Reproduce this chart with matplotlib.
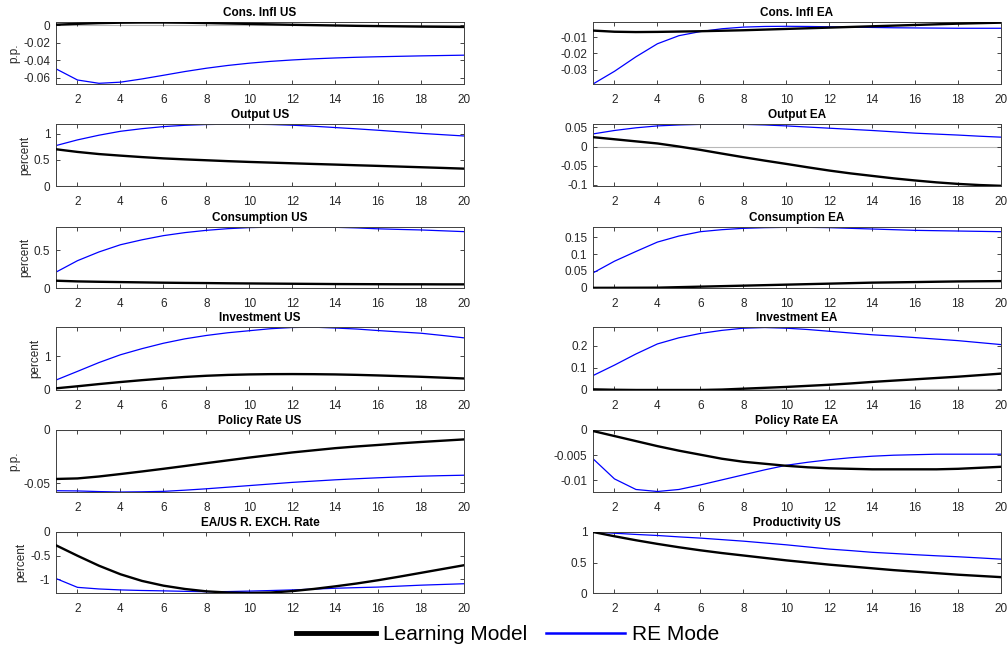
import numpy as np
import matplotlib
matplotlib.use("Agg")
import matplotlib.pyplot as plt
from matplotlib.lines import Line2D
from matplotlib.ticker import FuncFormatter

plt.rcParams['font.family'] = ['Liberation Sans', 'DejaVu Sans']
plt.rcParams['axes.unicode_minus'] = False

# horizon (quarters)
horizon = np.arange(1, 21)

titles = ["Cons. Infl US", "Cons. Infl EA", "Output US", "Output EA",
          "Consumption US", "Consumption EA", "Investment US", "Investment EA",
          "Policy Rate US", "Policy Rate EA", "EA/US R. EXCH. Rate", "Productivity US"]
ylabels = ["p.p.", "", "percent", "", "percent", "", "percent", "", "p.p.", "", "percent", ""]

# learning model responses
learn_infl_us = [0.0008, 0.0018, 0.0026, 0.0031, 0.0033, 0.0033, 0.0031, 0.0027, 0.0022, 0.0017,
                 0.0012, 0.0007, 0.0003, -0.0001, -0.0005, -0.0008, -0.0011, -0.0014, -0.0016, -0.0018]
learn_infl_ea = [-0.0061, -0.0068, -0.0070, -0.0069, -0.0067, -0.0065, -0.0062, -0.0059, -0.0055, -0.0051,
                 -0.0047, -0.0043, -0.0039, -0.0035, -0.0031, -0.0027, -0.0023, -0.0019, -0.0016, -0.0013]
learn_y_us = [0.705, 0.654, 0.613, 0.583, 0.555, 0.530, 0.511, 0.494, 0.477, 0.462,
              0.449, 0.436, 0.423, 0.411, 0.398, 0.386, 0.373, 0.360, 0.347, 0.333]
learn_y_ea = [0.0245, 0.019, 0.0135, 0.0080, 0.0000, -0.0088, -0.0185, -0.0280, -0.0370, -0.0456,
              -0.0545, -0.0630, -0.0705, -0.0770, -0.0835, -0.0890, -0.0940, -0.0980, -0.1010, -0.1030]
learn_c_us = [0.096, 0.087, 0.082, 0.078, 0.074, 0.070, 0.067, 0.065, 0.062, 0.060,
              0.058, 0.056, 0.054, 0.052, 0.051, 0.050, 0.049, 0.049, 0.048, 0.048]
learn_c_ea = [-0.0005, -0.0004, -0.0002, 0.0000, 0.0015, 0.0030, 0.0045, 0.0060, 0.0075, 0.0090,
              0.0105, 0.0120, 0.0135, 0.0150, 0.0158, 0.0167, 0.0177, 0.0186, 0.0191, 0.0196]
learn_i_us = [0.05, 0.11, 0.175, 0.235, 0.29, 0.34, 0.385, 0.42, 0.445, 0.46,
              0.468, 0.47, 0.467, 0.46, 0.447, 0.43, 0.41, 0.39, 0.365, 0.34]
learn_i_ea = [0.000, -0.002, -0.003, -0.003, -0.003, -0.003, -0.001, 0.003, 0.007, 0.011,
              0.016, 0.021, 0.027, 0.034, 0.040, 0.046, 0.052, 0.058, 0.065, 0.072]
learn_r_us = [-0.0458, -0.0453, -0.0435, -0.0412, -0.0388, -0.0363, -0.0337, -0.0310, -0.0284, -0.0258,
              -0.0234, -0.0210, -0.0190, -0.0170, -0.0154, -0.0140, -0.0125, -0.0112, -0.0100, -0.0088]
learn_r_ea = [-0.0002, -0.0012, -0.0022, -0.0032, -0.0041, -0.0049, -0.0057, -0.0063, -0.0067, -0.0071,
              -0.0074, -0.0076, -0.0077, -0.0078, -0.0078, -0.0078, -0.0078, -0.0077, -0.0075, -0.0073]
learn_rer = [-0.28, -0.50, -0.71, -0.89, -1.03, -1.13, -1.20, -1.25, -1.275, -1.285,
             -1.275, -1.245, -1.20, -1.145, -1.085, -1.016, -0.94, -0.86, -0.78, -0.70]
learn_prod = [1.0, 0.93, 0.865, 0.805, 0.75, 0.70, 0.655, 0.615, 0.575, 0.535,
              0.50, 0.465, 0.435, 0.405, 0.375, 0.35, 0.325, 0.30, 0.28, 0.26]

# rational expectations responses
re_infl_us = [-0.0499, -0.0627, -0.0665, -0.0652, -0.0615, -0.0573, -0.0530, -0.0492, -0.0460, -0.0434,
              -0.0413, -0.0397, -0.0384, -0.0374, -0.0366, -0.0360, -0.0355, -0.0350, -0.0346, -0.0342]
re_infl_ea = [-0.0385, -0.0308, -0.0220, -0.0141, -0.0092, -0.0067, -0.0050, -0.0040, -0.0036, -0.0035,
              -0.0036, -0.0038, -0.0040, -0.0042, -0.0044, -0.0045, -0.0046, -0.0047, -0.0047, -0.0047]
re_y_us = [0.776, 0.885, 0.975, 1.050, 1.100, 1.140, 1.165, 1.180, 1.186, 1.186,
           1.180, 1.167, 1.147, 1.122, 1.097, 1.070, 1.040, 1.010, 0.985, 0.960]
re_y_ea = [0.033, 0.042, 0.049, 0.054, 0.0565, 0.058, 0.0585, 0.058, 0.0565, 0.054,
           0.051, 0.048, 0.045, 0.042, 0.0385, 0.035, 0.0325, 0.030, 0.027, 0.0245]
re_c_us = [0.209, 0.360, 0.475, 0.570, 0.635, 0.690, 0.730, 0.760, 0.782, 0.796,
           0.802, 0.804, 0.803, 0.800, 0.792, 0.780, 0.772, 0.765, 0.754, 0.743]
re_c_ea = [0.044, 0.079, 0.108, 0.136, 0.154, 0.167, 0.173, 0.177, 0.179, 0.180,
           0.180, 0.179, 0.177, 0.175, 0.173, 0.171, 0.170, 0.169, 0.168, 0.167]
re_i_us = [0.294, 0.55, 0.81, 1.04, 1.22, 1.38, 1.51, 1.61, 1.69, 1.75,
           1.81, 1.845, 1.855, 1.83, 1.80, 1.755, 1.715, 1.676, 1.61, 1.54]
re_i_ea = [0.063, 0.111, 0.162, 0.208, 0.236, 0.256, 0.270, 0.280, 0.283, 0.280,
           0.274, 0.266, 0.258, 0.250, 0.244, 0.237, 0.230, 0.223, 0.214, 0.205]
re_r_us = [-0.0568, -0.0570, -0.0576, -0.0580, -0.0578, -0.0574, -0.0563, -0.0550, -0.0535, -0.0520,
           -0.0505, -0.0490, -0.0478, -0.0466, -0.0456, -0.0447, -0.0439, -0.0432, -0.0427, -0.0423]
re_r_ea = [-0.0057, -0.0097, -0.0118, -0.0122, -0.0118, -0.0109, -0.0099, -0.0089, -0.0079, -0.0070,
           -0.0064, -0.0059, -0.0055, -0.0052, -0.0050, -0.0049, -0.0048, -0.0048, -0.0048, -0.0048]
re_rer = [-0.98, -1.166, -1.20, -1.22, -1.232, -1.24, -1.25, -1.258, -1.255, -1.245,
          -1.233, -1.22, -1.203, -1.185, -1.172, -1.16, -1.14, -1.12, -1.105, -1.09]
re_prod = [1.0, 0.98, 0.96, 0.943, 0.92, 0.90, 0.875, 0.85, 0.82, 0.79,
           0.755, 0.72, 0.695, 0.667, 0.648, 0.628, 0.61, 0.594, 0.575, 0.555]

learn = [learn_infl_us, learn_infl_ea, learn_y_us, learn_y_ea, learn_c_us, learn_c_ea,
         learn_i_us, learn_i_ea, learn_r_us, learn_r_ea, learn_rer, learn_prod]
re = [re_infl_us, re_infl_ea, re_y_us, re_y_ea, re_c_us, re_c_ea,
      re_i_us, re_i_ea, re_r_us, re_r_ea, re_rer, re_prod]

ylims = [(-0.0673, 0.0039), (-0.0385, -0.0009), (0, 1.19), (-0.1035, 0.059),
         (0, 0.804), (-0.001, 0.181), (0, 1.86), (-0.003, 0.2855),
         (-0.058, 0), (-0.0123, 0), (-1.285, 0), (0, 1)]
yticks = [[-0.06, -0.04, -0.02, 0], [-0.03, -0.02, -0.01], [0, 0.5, 1], [-0.1, -0.05, 0, 0.05],
          [0, 0.5], [0, 0.05, 0.1, 0.15], [0, 1], [0, 0.1, 0.2],
          [-0.05, 0], [-0.01, -0.005, 0], [-1, -0.5, 0], [0, 0.5, 1]]

W, H = 1008, 650
fig = plt.figure(figsize=(W / 100, H / 100), dpi=100)

col_x = [56, 593]
ax_w = 408
rows = [(22, 84), (124, 186), (227, 288), (327, 390), (430, 492), (532, 593)]

tick_col = '#262626'
for k in range(12):
    r, c = k // 2, k % 2
    top, bot = rows[r]
    ax = fig.add_axes([col_x[c] / W, 1 - bot / H, ax_w / W, (bot - top) / H])
    ax.axhline(0, color='#b8b8b8', lw=0.8, zorder=1)
    ax.plot(horizon, learn[k], color='k', lw=1.7, zorder=3)
    ax.plot(horizon, re[k], color='#0000ff', lw=0.9, zorder=2)
    ax.set_xlim(1, 20)
    ax.set_ylim(*ylims[k])
    ax.set_xticks(range(2, 21, 2))
    ax.set_yticks(yticks[k])
    ax.yaxis.set_major_formatter(FuncFormatter(lambda v, p: '%g' % round(v, 6)))
    ax.tick_params(direction='in', top=True, right=True, length=3, width=0.6,
                   labelsize=8.5, colors=tick_col)
    ax.tick_params(axis='x', pad=7.5)
    ax.tick_params(axis='y', pad=4)
    for s in ax.spines.values():
        s.set_color('#404040')
        s.set_linewidth(0.7)
    ax.set_title(titles[k], fontsize=8.5, fontweight='bold', pad=4)
    if ylabels[k]:
        ax.set_ylabel(ylabels[k], fontsize=8.5, color=tick_col, labelpad=2)

handles = [Line2D([], [], color='k', lw=3.5), Line2D([], [], color='#0000ff', lw=1.8)]
fig.legend(handles, ["Learning Model", "RE Mode"], loc='center', ncol=2,
           bbox_to_anchor=(508 / W, 1 - 635 / H), frameon=False, fontsize=15,
           handlelength=3.8, handletextpad=0.35, columnspacing=0.9)

fig.savefig("out.png", dpi=100)
